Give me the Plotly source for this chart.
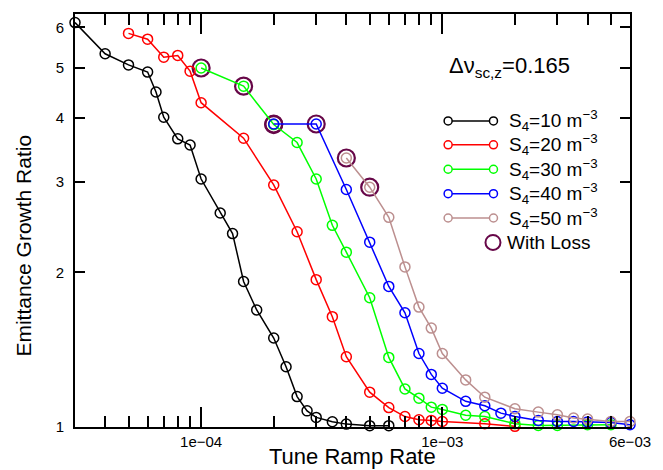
import math
import plotly.graph_objects as go

# Emittance growth ratio vs. tune ramp rate for several octupole strengths S4
x_s10 = [3e-5, 4e-5, 5e-5, 6e-5, 6.5e-5, 7e-5, 8e-5, 9e-5, 1e-4, 1.2e-4, 1.35e-4,
         1.5e-4, 1.7e-4, 2e-4, 2.25e-4, 2.5e-4, 2.75e-4, 3e-4, 3.5e-4, 4e-4, 5e-4, 6e-4]
y_s10 = [6.13, 5.33, 5.07, 4.91, 4.49, 4.01, 3.64, 3.54, 3.04, 2.61, 2.38,
         1.92, 1.69, 1.49, 1.31, 1.146, 1.075, 1.044, 1.024, 1.013, 1.006, 1.006]

x_s20 = [5e-5, 6e-5, 7e-5, 8e-5, 9e-5, 1e-4, 1.5e-4, 2e-4, 2.5e-4, 3e-4, 3.5e-4,
         4e-4, 5e-4, 6e-4, 7e-4, 8e-4, 9e-4, 1e-3, 1.5e-3, 2e-3]
y_s20 = [5.84, 5.69, 5.25, 5.29, 4.93, 4.28, 3.65, 2.96, 2.40, 1.936, 1.64,
         1.37, 1.169, 1.091, 1.048, 1.033, 1.03, 1.025, 1.015, 1.003]

x_s30 = [1e-4, 1.5e-4, 2e-4, 2.5e-4, 3e-4, 3.5e-4, 4e-4, 5e-4, 6e-4, 7e-4, 8e-4,
         9e-4, 1e-3, 1.25e-3, 1.5e-3, 2e-3, 2.5e-3, 3e-3, 4e-3, 5e-3]
y_s30 = [5.0, 4.61, 3.88, 3.58, 3.04, 2.47, 2.19, 1.785, 1.366, 1.186, 1.138,
         1.093, 1.082, 1.054, 1.048, 1.015, 1.007, 1.007, 1.01, 1.01]

x_s40 = [2e-4, 3e-4, 4e-4, 5e-4, 6e-4, 7e-4, 8e-4, 9e-4, 1e-3, 1.25e-3, 1.5e-3,
         1.75e-3, 2e-3, 2.5e-3, 3e-3, 3.5e-3, 4e-3, 5e-3, 6e-3]
y_s40 = [3.89, 3.89, 2.90, 2.29, 1.878, 1.669, 1.39, 1.266, 1.19, 1.122, 1.10,
         1.064, 1.048, 1.030, 1.025, 1.025, 1.023, 1.02, 1.01]

x_s50 = [4e-4, 5e-4, 6e-4, 7e-4, 8e-4, 9e-4, 1e-3, 1.25e-3, 1.5e-3, 2e-3, 2.5e-3,
         3e-3, 3.5e-3, 4e-3, 5e-3, 6e-3]
y_s50 = [3.34, 2.93, 2.56, 2.05, 1.712, 1.558, 1.39, 1.235, 1.143, 1.085, 1.069,
         1.056, 1.041, 1.036, 1.025, 1.025]

# indices of the points in each series where particle loss occurred
loss_s30 = [0, 1, 2]
loss_s40 = [0, 1]
loss_s50 = [0, 1]

series_labels = ["S<sub>4</sub>=10 m<sup>\u22123</sup>", "S<sub>4</sub>=20 m<sup>\u22123</sup>",
                 "S<sub>4</sub>=30 m<sup>\u22123</sup>", "S<sub>4</sub>=40 m<sup>\u22123</sup>",
                 "S<sub>4</sub>=50 m<sup>\u22123</sup>"]
series_colors = ["#000000", "#ff0000", "#00ff00", "#0000ff", "#bc8f8f"]
loss_color = "#670748"

x_tick_vals = [1e-4, 1e-3, 6e-3]
x_tick_text = ["1e\u221204", "1e\u221203", "6e\u221203"]
x_minor_vals = [4e-5, 5e-5, 6e-5, 7e-5, 8e-5, 9e-5,
                2e-4, 3e-4, 4e-4, 5e-4, 6e-4, 7e-4, 8e-4, 9e-4,
                2e-3, 3e-3, 4e-3, 5e-3]
y_tick_vals = [1, 2, 3, 4, 5, 6]

FONT = "Liberation Sans, Arial, sans-serif"

series = [(x_s10, y_s10, []), (x_s20, y_s20, []), (x_s30, y_s30, loss_s30),
          (x_s40, y_s40, loss_s40), (x_s50, y_s50, loss_s50)]

fig = go.Figure()

# loss rings underneath the series markers
lx, ly = [], []
for xs, ys, idx in series:
    for i in idx:
        lx.append(xs[i])
        ly.append(ys[i])
fig.add_trace(go.Scatter(x=lx, y=ly, mode="markers", cliponaxis=False, showlegend=False,
                         marker=dict(symbol="circle-open", size=17, color=loss_color,
                                     line=dict(width=2.2))))

for (xs, ys, _), name, col in zip(series, series_labels, series_colors):
    fig.add_trace(go.Scatter(x=xs, y=ys, mode="lines+markers", name=name, cliponaxis=False,
                             showlegend=False, line=dict(color=col, width=1.5),
                             marker=dict(symbol="circle-open", size=10, color=col,
                                         line=dict(width=1.5))))

# plot-area geometry in pixels (used for placing text and legend keys)
W, H = 663, 470
ML, MR, MT, MB = 75, 25, 12, 43
PW, PH = W - ML - MR, H - MT - MB


def px(xp):
    return (xp - ML) / PW


def py(yp):
    return (H - MB - yp) / PH


shapes = []
annotations = []

# hand-drawn legend: line with a circle at each end, then the label
row_y = [119.5, 143.5, 168, 192.5, 217]
for yy, name, col in zip(row_y, series_labels, series_colors):
    shapes.append(dict(type="line", xref="paper", yref="paper", x0=px(453.5), x1=px(499.5),
                       y0=py(yy), y1=py(yy), line=dict(color=col, width=1.5)))
    for xc in (453.5, 499.5):
        shapes.append(dict(type="circle", xref="paper", yref="paper",
                           xsizemode="pixel", ysizemode="pixel",
                           xanchor=px(xc), yanchor=py(yy), x0=-4, x1=4, y0=-4, y1=4,
                           fillcolor="white", line=dict(color=col, width=1.5)))
    annotations.append(dict(text=name, xref="paper", yref="paper", x=px(513), y=py(yy),
                            xanchor="left", yanchor="middle", showarrow=False,
                            font=dict(family=FONT, size=19, color="black")))

loss_y = 241.5
shapes.append(dict(type="circle", xref="paper", yref="paper",
                   xsizemode="pixel", ysizemode="pixel",
                   xanchor=px(499), yanchor=py(loss_y), x0=-7.5, x1=7.5, y0=-7.5, y1=7.5,
                   line=dict(color=loss_color, width=2)))
annotations.append(dict(text="With Loss", xref="paper", yref="paper", x=px(511), y=py(loss_y),
                        xanchor="left", yanchor="middle", showarrow=False,
                        font=dict(family=FONT, size=19, color="black")))

annotations.append(dict(text="\u0394\u03bd<sub>sc,z</sub>=0.165", xref="paper", yref="paper",
                        x=px(452), y=py(65), xanchor="left", yanchor="middle", showarrow=False,
                        font=dict(family=FONT, size=22, color="black")))

# axis titles
annotations.append(dict(text="Tune Ramp Rate", xref="paper", yref="paper",
                        x=px(357), y=py(470), xanchor="center", yanchor="bottom",
                        showarrow=False, borderpad=0,
                        font=dict(family=FONT, size=22, color="black")))
annotations.append(dict(text="Emittance Growth Ratio", xref="paper", yref="paper",
                        x=px(23), y=py(245), xanchor="center", yanchor="middle", textangle=-90,
                        showarrow=False, font=dict(family=FONT, size=21, color="black")))

fig.update_layout(
    width=W, height=H,
    margin=dict(l=ML, r=MR, t=MT, b=MB),
    paper_bgcolor="white", plot_bgcolor="white",
    font=dict(family=FONT, color="black"),
    shapes=shapes, annotations=annotations,
    xaxis=dict(type="log", range=[math.log10(3e-5), math.log10(6e-3)],
               tickmode="array", tickvals=x_tick_vals, ticktext=x_tick_text,
               ticks="inside", ticklen=20, tickwidth=1.5, tickcolor="black",
               showline=True, linewidth=2, linecolor="black", mirror="allticks",
               showgrid=False, zeroline=False,
               tickfont=dict(family=FONT, size=15, color="black"),
               minor=dict(tickmode="array", tickvals=x_minor_vals, ticks="inside",
                          ticklen=11, tickwidth=1.5, tickcolor="black", showgrid=False)),
    yaxis=dict(type="log", range=[0, math.log10(6.37)],
               tickmode="array", tickvals=y_tick_vals, ticktext=[str(v) for v in y_tick_vals],
               ticks="inside", ticklen=10, tickwidth=1.5, tickcolor="black",
               showline=True, linewidth=2, linecolor="black", mirror="allticks",
               showgrid=False, zeroline=False, ticklabelstandoff=6,
               tickfont=dict(family=FONT, size=15, color="black")),
)

fig.write_html("out.html")
